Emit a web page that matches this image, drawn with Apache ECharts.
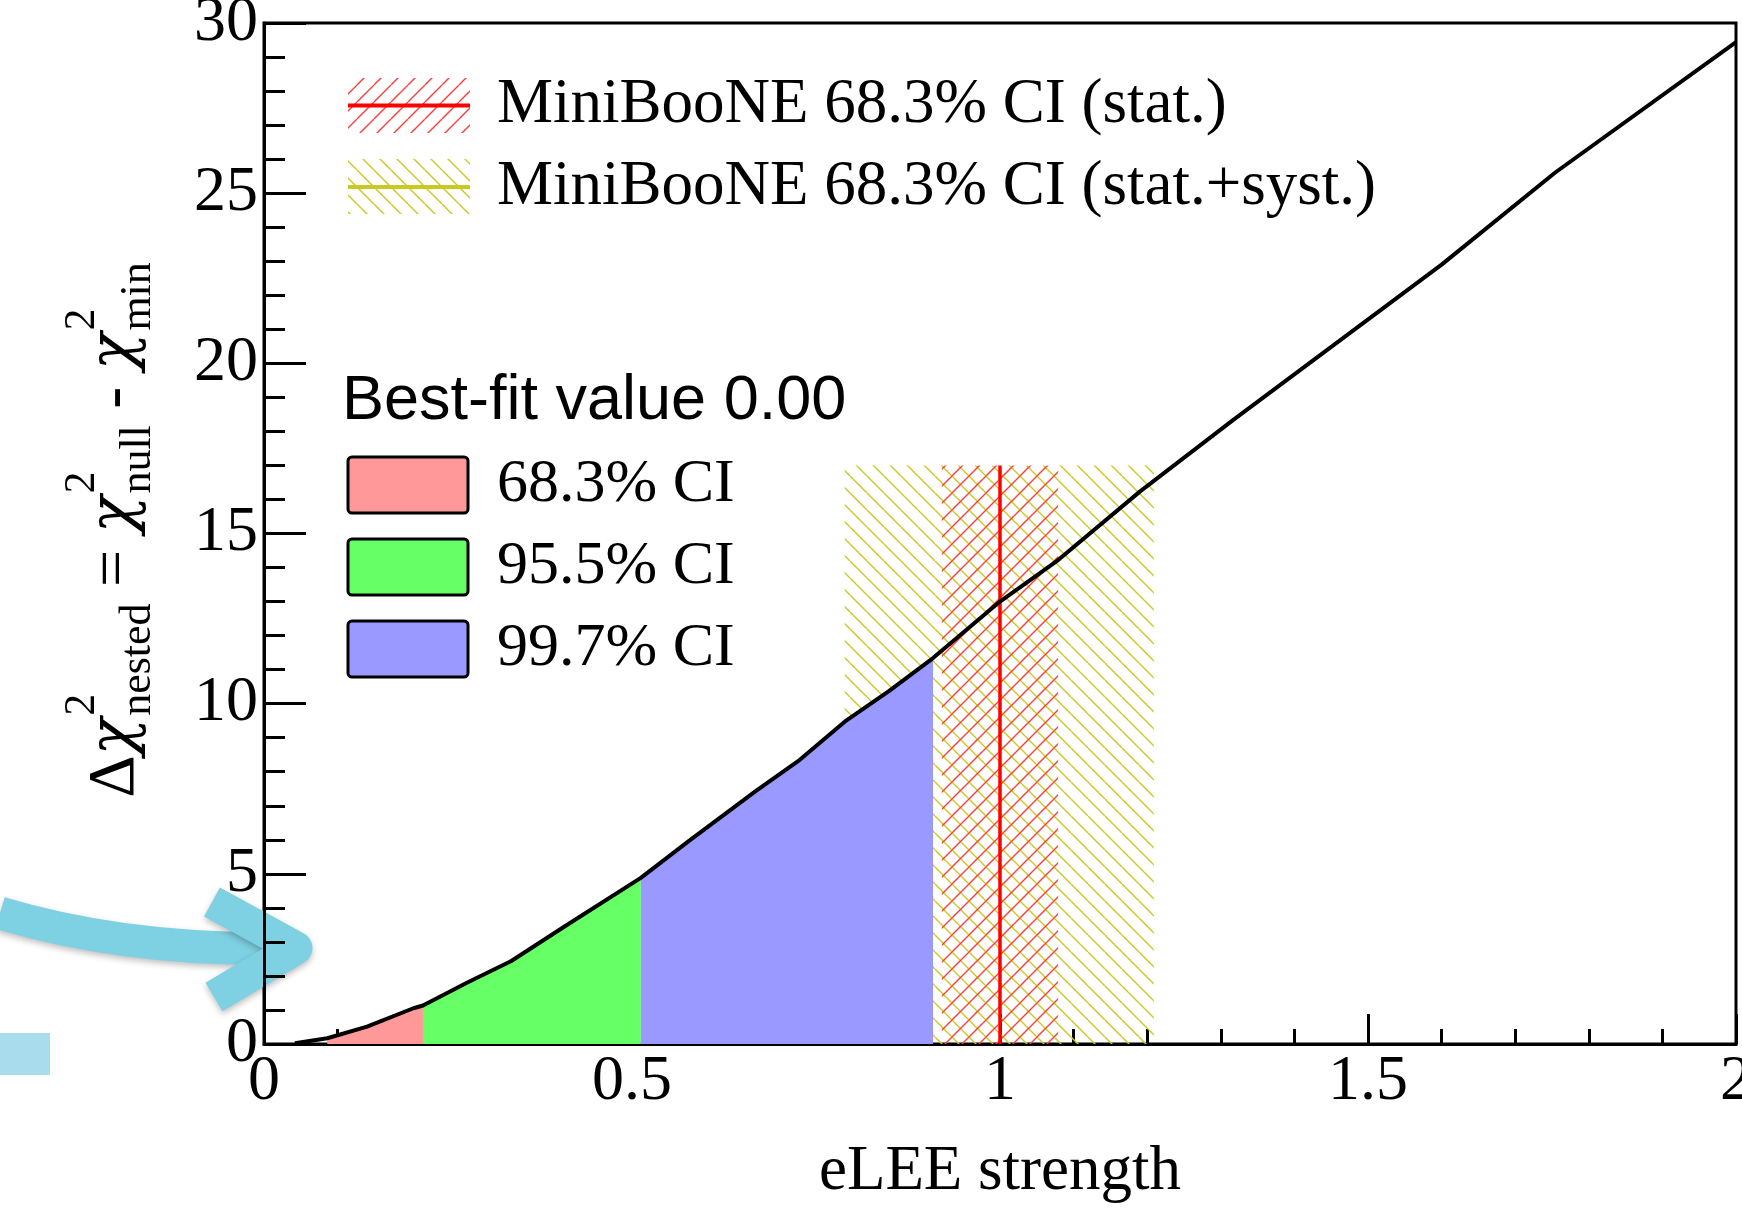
<!DOCTYPE html>
<html><head><meta charset="utf-8">
<script src="https://cdn.jsdelivr.net/npm/echarts@6/dist/echarts.min.js"></script>
<style>html,body{margin:0;padding:0;background:#fff;overflow:hidden}#c{width:1742px;height:1211px}</style>
</head><body><div id="c"></div>
<script>
// ---- data ----
const xTicks = [0, 0.5, 1, 1.5, 2];
const yTicks = [0, 5, 10, 15, 20, 25, 30];
const curveX = [0.042, 0.086, 0.14, 0.203, 0.216, 0.275, 0.336, 0.411, 0.512, 0.577, 0.668, 0.728, 0.789, 0.849, 0.909, 1.0, 1.079, 1.19, 1.317, 1.6, 1.754, 2.0];
const curveY = [0.02, 0.17, 0.51, 1.05, 1.13, 1.79, 2.44, 3.49, 4.88, 5.96, 7.43, 8.35, 9.47, 10.37, 11.34, 13.0, 14.22, 16.23, 18.34, 22.9, 25.6, 29.44];
const ciNames = ['68.3% CI', '95.5% CI', '99.7% CI'];
const ciBounds = [0.086, 0.216, 0.512, 0.909];
const ciColors = ['#ff9999', '#66ff66', '#9999ff'];
const mbStatBand = [0.921, 1.079];
const mbSystBand = [0.789, 1.209];
const mbBandTop = 17;
const mbCentral = 1.0;
const mbNames = ['MiniBooNE 68.3% CI (stat.)', 'MiniBooNE 68.3% CI (stat.+syst.)'];
const bestFitText = 'Best-fit value 0.00';
const xTitle = 'eLEE strength';

// ---- helpers ----
const SERIF = '"Liberation Serif", "Times New Roman", serif';
const SANS = '"Liberation Sans", Arial, sans-serif';
const GREEK = '"DejaVu Serif", serif';
function hatch(color, dir, size, lw) {
  const c = document.createElement('canvas');
  c.width = c.height = size;
  const g = c.getContext('2d');
  g.strokeStyle = color; g.lineWidth = lw;
  g.beginPath();
  for (const k of [-size, 0, size]) {
    if (dir === '\\') { g.moveTo(k, 0); g.lineTo(k + size, size); }
    else { g.moveTo(k, size); g.lineTo(k + size, 0); }
  }
  g.stroke();
  return c;
}
const redHatch = hatch('#ff3b3b', '/', 17, 1.4);
const yelHatch = hatch('#c9c922', '\\', 17, 1.4);
const curve = curveX.map((x, i) => [x, curveY[i]]);
function slice(a, b) { return curve.filter(p => p[0] >= a - 1e-9 && p[0] <= b + 1e-9); }

const mctx = document.createElement('canvas').getContext('2d');
function tw(t, f) { mctx.font = f; return mctx.measureText(t).width; }

// y-axis title built from pieces
const mainF = '66px ' + SERIF, chiF = 'italic 62px ' + GREEK, smallF = '44px ' + SERIF;
const pieces = [
  {t: 'Δ', f: mainF}, {t: 'χ', f: chiF}, {sup: '2', sub: 'nested'},
  {t: ' = ', f: mainF}, {t: 'χ', f: chiF}, {sup: '2', sub: 'null'},
  {t: ' - ', f: mainF}, {t: 'χ', f: chiF}, {sup: '2', sub: 'min'}
];
let total = 0;
pieces.forEach(p => { p.w = p.t ? tw(p.t, p.f) : Math.max(tw(p.sup, smallF), tw(p.sub, smallF)) + 2; total += p.w; });
const yTitleChildren = [];
let cx = -total / 2;
pieces.forEach(p => {
  if (p.t) {
    yTitleChildren.push({type: 'text', style: {x: cx, y: 0, text: p.t, font: p.f, fill: '#000', verticalAlign: 'middle'}});
  } else {
    yTitleChildren.push({type: 'text', style: {x: cx + 2, y: -34, text: p.sup, font: smallF, fill: '#000', verticalAlign: 'middle'}});
    yTitleChildren.push({type: 'text', style: {x: cx + 2, y: 22, text: p.sub, font: smallF, fill: '#000', verticalAlign: 'middle'}});
  }
  cx += p.w;
});

const chart = echarts.init(document.getElementById('c'), null, {renderer: 'canvas'});
const axisCommon = {
  axisLine: {show: true, onZero: false, lineStyle: {color: '#000', width: 3}},
  axisTick: {show: true, inside: true, lineStyle: {color: '#000', width: 3}},
  minorTick: {show: true, splitNumber: 5, lineStyle: {color: '#000', width: 3}},
  splitLine: {show: false},
  axisLabel: {color: '#000', fontFamily: SERIF, fontSize: 64}
};
const option = {
  animation: false,
  backgroundColor: '#fff',
  grid: {left: 264, right: 6, top: 23, bottom: 167, containLabel: false, outerBoundsMode: 'none',
    show: true, borderColor: '#000', borderWidth: 3, backgroundColor: 'transparent'},
  xAxis: Object.assign({}, axisCommon, {
    type: 'value', min: xTicks[0], max: xTicks[xTicks.length - 1], interval: xTicks[1] - xTicks[0],
    axisTick: Object.assign({}, axisCommon.axisTick, {length: 30}),
    minorTick: Object.assign({}, axisCommon.minorTick, {length: 15}),
    axisLabel: Object.assign({}, axisCommon.axisLabel, {margin: 6, hideOverlap: false}),
    name: xTitle, nameLocation: 'middle', nameGap: 97,
    nameTextStyle: {color: '#000', fontFamily: SERIF, fontSize: 63}
  }),
  yAxis: Object.assign({}, axisCommon, {
    type: 'value', min: yTicks[0], max: yTicks[yTicks.length - 1], interval: yTicks[1] - yTicks[0],
    axisTick: Object.assign({}, axisCommon.axisTick, {length: 42}),
    minorTick: Object.assign({}, axisCommon.minorTick, {length: 21}),
    axisLabel: Object.assign({}, axisCommon.axisLabel, {margin: 6, hideOverlap: false})
  }),
  series: [
    ...ciNames.map((n, i) => ({
      name: n, type: 'line', data: slice(ciBounds[i], ciBounds[i + 1]), symbol: 'none', z: 2,
      lineStyle: {width: 0}, itemStyle: {color: ciColors[i]}, areaStyle: {color: ciColors[i], opacity: 1}
    })),
    {
      name: 'bands', type: 'line', data: [], z: 3,
      markArea: {silent: true, data: [
        [{xAxis: mbSystBand[0], yAxis: 0, itemStyle: {color: {image: yelHatch, repeat: 'repeat'}}}, {xAxis: mbSystBand[1], yAxis: mbBandTop}],
        [{xAxis: mbStatBand[0], yAxis: 0, itemStyle: {color: {image: redHatch, repeat: 'repeat'}}}, {xAxis: mbStatBand[1], yAxis: mbBandTop}]
      ]}
    },
    {
      name: 'MiniBooNE central', type: 'line', data: [[mbCentral, 0], [mbCentral, mbBandTop]], symbol: 'none', z: 4,
      lineStyle: {color: '#ff0000', width: 3.5}
    },
    {
      name: 'delta chi2', type: 'line', data: curve, symbol: 'none', z: 5,
      lineStyle: {color: '#000', width: 4}
    }
  ],
  graphic: [
    // y title
    {type: 'group', x: 116, y: 530, rotation: Math.PI / 2, children: yTitleChildren},
    // MiniBooNE legend
    {type: 'rect', shape: {x: 348, y: 78, width: 122, height: 55}, style: {fill: {image: redHatch, repeat: 'repeat'}}},
    {type: 'line', shape: {x1: 348, y1: 105.5, x2: 470, y2: 105.5}, style: {stroke: '#ff0000', lineWidth: 4}},
    {type: 'text', style: {x: 497, y: 105, text: mbNames[0], font: '63px ' + SERIF, fill: '#000', verticalAlign: 'middle'}},
    {type: 'rect', shape: {x: 348, y: 159, width: 122, height: 55}, style: {fill: {image: yelHatch, repeat: 'repeat'}}},
    {type: 'line', shape: {x1: 348, y1: 187, x2: 470, y2: 187}, style: {stroke: '#c9c922', lineWidth: 4}},
    {type: 'text', style: {x: 497, y: 187, text: mbNames[1], font: '63px ' + SERIF, fill: '#000', verticalAlign: 'middle'}},
    // CI legend
    {type: 'text', style: {x: 342, y: 402, text: bestFitText, font: '63px ' + SANS, fill: '#000', verticalAlign: 'middle'}},
    ...ciNames.flatMap((n, i) => [
      {type: 'rect', shape: {x: 348, y: 457 + i * 82, width: 120, height: 56, r: 4}, style: {fill: ciColors[i], stroke: '#000', lineWidth: 3}},
      {type: 'text', style: {x: 497, y: 485 + i * 82, text: n, font: '62px ' + SERIF, fill: '#000', verticalAlign: 'middle'}}
    ]),
    // annotation overlay (arrow + square)
    {type: 'bezierCurve', shape: {x1: 0, y1: 913, cpx1: 130, cpy1: 952, x2: 290, y2: 948}, style: {stroke: '#7ed0e3', lineWidth: 33, fill: null, shadowBlur: 6, shadowColor: 'rgba(0,0,0,0.25)', shadowOffsetY: 3}},
    {type: 'polyline', shape: {points: [[212, 902], [296, 948], [214, 997]]}, style: {stroke: '#7ed0e3', lineWidth: 33, fill: null, lineJoin: 'round', shadowBlur: 6, shadowColor: 'rgba(0,0,0,0.25)', shadowOffsetY: 3}},
    {type: 'rect', shape: {x: 0, y: 1033, width: 50, height: 42}, style: {fill: '#a9ddee'}}
  ]
};
chart.setOption(option);
</script>
</body></html>
